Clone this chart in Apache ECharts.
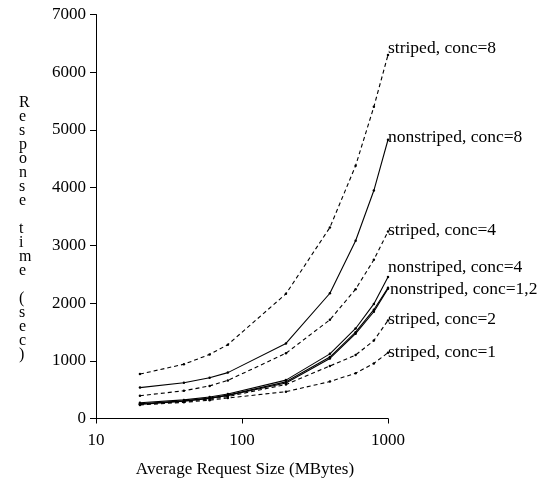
<!DOCTYPE html>
<html>
<head>
<meta charset="utf-8">
<script src="https://cdn.jsdelivr.net/npm/echarts@6/dist/echarts.min.js"></script>
<style>
html,body{margin:0;padding:0;background:#fff;}
#chart{width:542px;height:478px;}
</style>
</head>
<body>
<div id="chart"></div>
<script>
// Request sizes (MBytes)
var sizes = [20, 40, 60, 80, 200, 400, 600, 800, 1000];
// Response times (sec)
var striped8    = [770, 940, 1110, 1280, 2160, 3310, 4380, 5400, 6300];
var nonstriped8 = [535, 620, 705, 795, 1300, 2170, 3080, 3950, 4830];
var striped4    = [395, 480, 565, 660, 1130, 1710, 2240, 2750, 3240];
var nonstriped4 = [272, 322, 372, 425, 665, 1120, 1560, 1985, 2450];
var nonstriped2 = [255, 305, 355, 405, 635, 1065, 1495, 1885, 2265];
var nonstriped1 = [245, 298, 348, 398, 615, 1040, 1470, 1850, 2250];
var striped2    = [250, 295, 338, 380, 590, 910, 1100, 1350, 1700];
var striped1    = [235, 280, 318, 355, 465, 640, 785, 955, 1140];

var yTicks = [0, 1000, 2000, 3000, 4000, 5000, 6000, 7000];
var xTicks = [10, 100, 1000];
var yTitle = "Response time (sec)";
var xTitle = "Average Request Size (MBytes)";

var seriesDefs = [
  {name: "striped, conc=8", data: striped8, dashed: true, label: "striped, conc=8", off: [0, -6]},
  {name: "nonstriped, conc=8", data: nonstriped8, dashed: false, label: "nonstriped, conc=8", off: [0, -2]},
  {name: "striped, conc=4", data: striped4, dashed: true, label: "striped, conc=4", off: [0, -1]},
  {name: "nonstriped, conc=4", data: nonstriped4, dashed: false, label: "nonstriped, conc=4", off: [0, -10]},
  {name: "nonstriped, conc=2", data: nonstriped2, dashed: false, label: null, off: [0, 0]},
  {name: "nonstriped, conc=1", data: nonstriped1, dashed: false, label: "nonstriped, conc=1,2", off: [2, 1]},
  {name: "striped, conc=2", data: striped2, dashed: true, label: "striped, conc=2", off: [0, -1]},
  {name: "striped, conc=1", data: striped1, dashed: true, label: "striped, conc=1", off: [0, 0]}
];

var FONT = "Liberation Serif";

var series = seriesDefs.map(function (d) {
  return {
    name: d.name,
    type: 'line',
    data: sizes.map(function (x, i) { return [x, d.data[i]]; }),
    symbol: 'circle',
    symbolSize: 2.5,
    showSymbol: true,
    itemStyle: {color: '#000'},
    lineStyle: {color: '#000', width: 1.1, type: d.dashed ? [4, 3] : 'solid'},
    emphasis: {disabled: true},
    silent: true,
    endLabel: d.label ? {
      show: true,
      formatter: d.label,
      color: '#000',
      fontFamily: FONT,
      fontSize: 17.5,
      distance: 0,
      offset: d.off,
      align: 'left',
      verticalAlign: 'middle'
    } : {show: false},
    z: 3
  };
});

var chart = echarts.init(document.getElementById('chart'), null, {renderer: 'canvas'});
chart.setOption({
  animation: false,
  backgroundColor: '#fff',
  grid: {left: 96, right: 154, top: 14.5, bottom: 59.5, containLabel: false, outerBoundsMode: 'none'},
  xAxis: {
    type: 'log',
    logBase: 10,
    min: xTicks[0],
    max: xTicks[xTicks.length - 1],
    name: xTitle,
    nameLocation: 'middle',
    nameGap: 43,
    nameTextStyle: {color: '#000', fontFamily: FONT, fontSize: 17, padding: [0, 0, 0, 6]},
    axisLine: {lineStyle: {color: '#000', width: 1}},
    axisTick: {show: true, inside: false, length: 5, lineStyle: {color: '#000'}},
    minorTick: {show: false},
    splitLine: {show: false},
    axisLabel: {color: '#000', fontFamily: FONT, fontSize: 17, margin: 14,
      formatter: function (v) { return String(Math.round(v)); }}
  },
  yAxis: {
    type: 'value',
    min: yTicks[0],
    max: yTicks[yTicks.length - 1],
    interval: 1000,
    axisLine: {show: true, lineStyle: {color: '#000', width: 1}},
    axisTick: {show: true, inside: false, length: 6, lineStyle: {color: '#000'}},
    splitLine: {show: false},
    axisLabel: {color: '#000', fontFamily: FONT, fontSize: 17, margin: 10,
      formatter: function (v) { return String(v); }}
  },
  graphic: [{
    type: 'text',
    left: 19,
    top: 95,
    style: {
      text: yTitle.split('').join('\n'),
      fill: '#000',
      font: '16px "Liberation Serif"',
      lineHeight: 14,
      align: 'center'
    }
  }],
  series: series
});
</script>
</body>
</html>
